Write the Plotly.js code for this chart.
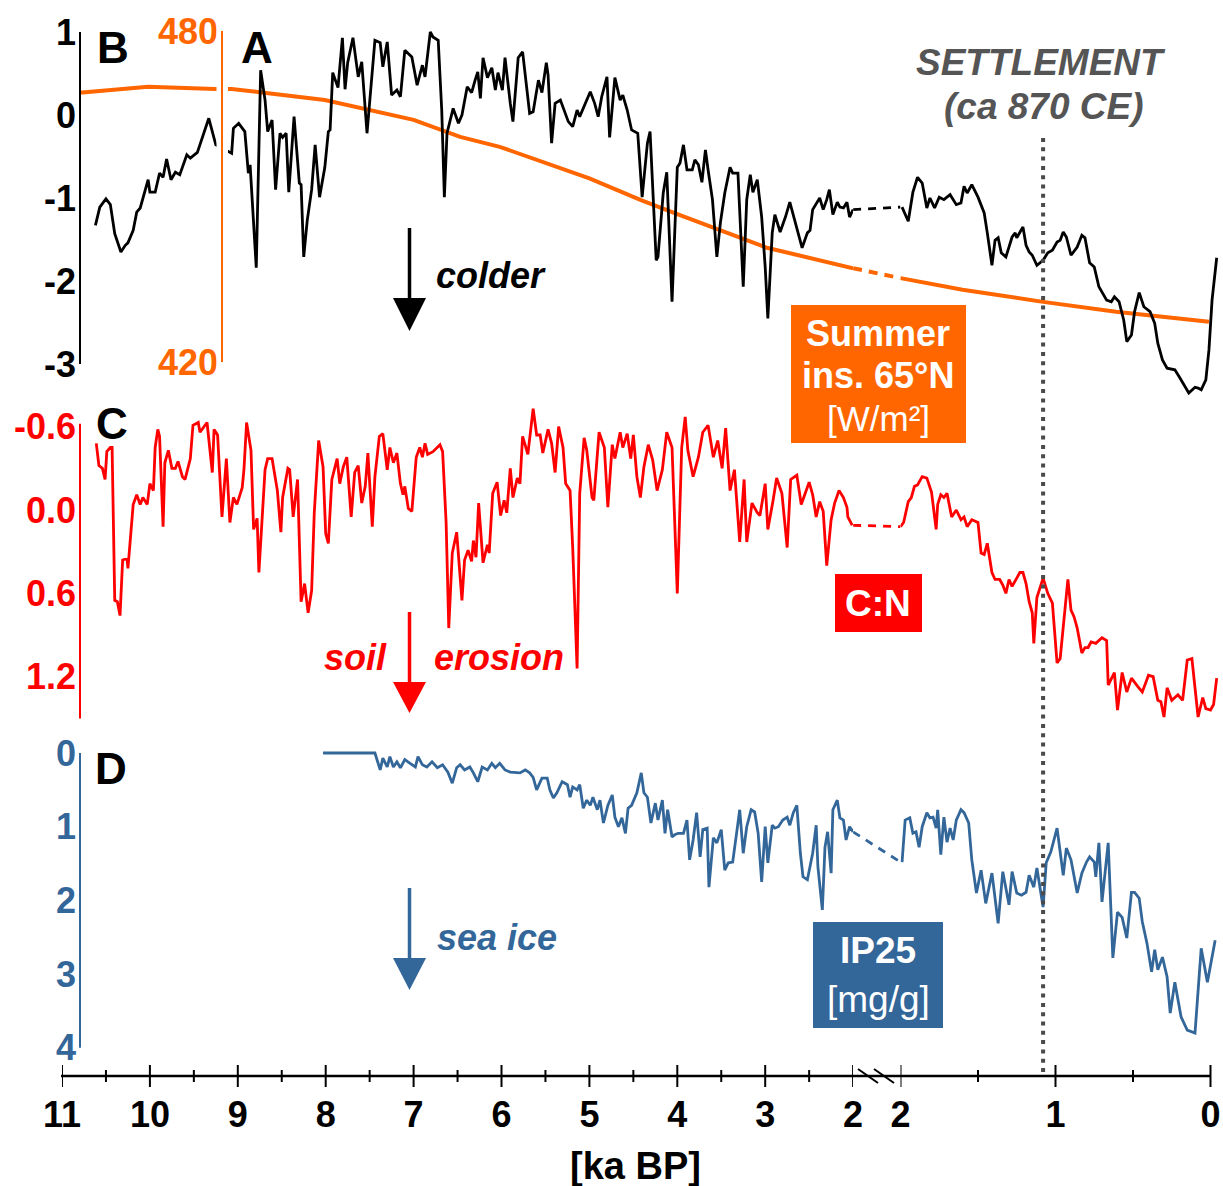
<!DOCTYPE html>
<html>
<head>
<meta charset="utf-8">
<script src="https://cdn.plot.ly/plotly-3.0.1.min.js"></script>
<style>html,body{margin:0;padding:0;background:#fff}#chart{width:1223px;height:1186px}</style>
</head>
<body>
<div id="chart"></div>
<script>
// ---------------- DATA ----------------
// x-axis ticks (ka BP)
const leftTickVals = [11,10,9,8,7,6,5,4,3,2];
const leftTickText = ['11','10','9','8','7','6','5','4','3','2'];
const leftMinorVals = [10.5,9.5,8.5,7.5,6.5,5.5,4.5,3.5,2.5];
const rightTickVals = [2,1,0];
const rightTickText = ['2','1','0'];
const rightMinorVals = [1.5,0.5];
const breakSpan = [0,1];
const settlementKa = 1.08;

// A: temperature anomaly (black)
const tempLeftKa = [10.62,10.57,10.50,10.45,10.40,10.33,10.28,10.25,10.19,10.15,10.11,10.02,10.00,9.94,9.89,9.85,9.81,9.76,9.71,9.66,9.58,9.54,9.46,9.41,9.33,9.25,9.07,9.05,8.99,8.92,8.88,8.86,8.79,8.74,8.69,8.66,8.61,8.57,8.52,8.49,8.45,8.42,8.36,8.30,8.28,8.25,8.21,8.16,8.12,8.07,8.01,7.97,7.95,7.92,7.86,7.81,7.78,7.75,7.69,7.63,7.59,7.53,7.47,7.44,7.38,7.35,7.30,7.25,7.19,7.15,7.10,7.02,6.96,6.90,6.87,6.81,6.78,6.72,6.68,6.65,6.62,6.55,6.49,6.45,6.39,6.34,6.30,6.27,6.24,6.21,6.16,6.11,6.07,6.04,5.99,5.96,5.90,5.87,5.81,5.76,5.68,5.64,5.58,5.54,5.49,5.47,5.43,5.39,5.33,5.24,5.19,5.14,5.11,5.05,4.99,4.94,4.90,4.86,4.80,4.77,4.71,4.65,4.62,4.57,4.52,4.45,4.40,4.34,4.31,4.24,4.22,4.16,4.12,4.06,4.00,3.97,3.93,3.89,3.83,3.80,3.76,3.72,3.68,3.65,3.60,3.55,3.51,3.46,3.40,3.37,3.31,3.25,3.21,3.17,3.14,3.09,3.04,3.00,2.97,2.92,2.89,2.83,2.77,2.72,2.66,2.58,2.52,2.49,2.46,2.41,2.38,2.34,2.30,2.27,2.23,2.18,2.15,2.11,2.07,2.04,2.00];
const tempLeft = [-1.33,-1.11,-1.01,-1.08,-1.43,-1.65,-1.57,-1.54,-1.39,-1.17,-1.12,-0.78,-0.93,-0.93,-0.70,-0.75,-0.53,-0.78,-0.69,-0.72,-0.48,-0.52,-0.45,-0.30,-0.04,-0.36,-0.46,-0.16,-0.10,-0.20,-0.70,-0.60,-1.84,0.54,0.18,-0.20,-0.06,-0.90,-0.22,-0.27,-0.22,-0.93,-0.02,-0.82,-0.84,-1.71,-1.27,-0.90,-0.36,-0.99,-0.63,-0.20,-0.18,0.51,0.33,0.93,0.31,0.63,0.93,0.46,0.64,-0.22,0.58,0.90,0.87,0.58,0.88,0.24,0.30,0.22,0.78,0.70,0.36,0.60,0.46,1.00,0.94,0.90,0.06,-0.99,-0.22,0.08,-0.10,0.00,0.34,0.27,0.42,0.52,0.20,0.69,0.45,0.57,0.30,0.51,0.30,0.69,0.14,-0.08,0.69,0.76,0.02,0.04,0.42,0.27,0.63,0.48,-0.34,0.14,0.18,-0.08,-0.14,0.06,-0.02,0.14,0.28,0.14,-0.02,0.22,0.46,-0.27,0.45,0.18,0.24,0.06,-0.18,-0.22,-0.99,-0.34,-0.20,-1.75,-1.71,-0.94,-0.69,-2.25,-0.63,-0.58,-0.36,-0.66,-0.66,-0.54,-0.60,-0.81,-0.42,-0.66,-1.02,-1.71,-1.30,-0.94,-0.63,-0.70,-0.70,-2.07,-1.02,-0.72,-0.93,-0.78,-1.23,-1.83,-2.45,-1.42,-1.20,-1.41,-1.23,-1.05,-1.29,-1.60,-1.42,-1.39,-1.14,-1.06,-1.00,-1.14,-1.02,-0.90,-1.20,-1.05,-1.11,-1.12,-1.05,-1.23,-1.14];
const tempRightKa = [1.99,1.95,1.92,1.89,1.86,1.83,1.81,1.78,1.75,1.72,1.68,1.64,1.61,1.59,1.57,1.54,1.50,1.46,1.44,1.41,1.39,1.37,1.35,1.32,1.28,1.26,1.25,1.21,1.19,1.17,1.15,1.12,1.08,1.05,1.02,0.99,0.97,0.95,0.93,0.90,0.86,0.83,0.81,0.78,0.75,0.72,0.67,0.64,0.62,0.59,0.56,0.54,0.51,0.49,0.46,0.43,0.39,0.36,0.34,0.31,0.28,0.23,0.20,0.17,0.14,0.10,0.08,0.06,0.03,0.01,-0.01,-0.04];
const tempRight = [-1.11,-1.28,-0.93,-0.75,-0.82,-1.12,-1.00,-1.12,-0.99,-1.02,-0.96,-1.08,-1.06,-0.86,-0.94,-0.84,-0.99,-1.18,-1.42,-1.81,-1.51,-1.48,-1.66,-1.71,-1.47,-1.42,-1.48,-1.35,-1.57,-1.65,-1.69,-1.81,-1.75,-1.66,-1.63,-1.53,-1.51,-1.41,-1.47,-1.69,-1.59,-1.45,-1.48,-1.78,-1.83,-2.07,-2.23,-2.25,-2.19,-2.25,-2.47,-2.73,-2.65,-2.37,-2.14,-2.31,-2.37,-2.51,-2.75,-2.95,-3.05,-3.07,-3.16,-3.25,-3.35,-3.28,-3.29,-3.31,-3.19,-2.83,-2.23,-1.72];

// B: summer insolation 65N (W/m2, orange)
const insolLeftKa = [10.80,10.02,9.26,9.07,8.75,8.01,7.00,6.70,6.47,6.02,5.00,4.42,4.00,2.98,2.00];
const insolLeft = [468.8,469.9,469.5,469.5,468.9,467.5,463.9,462.1,460.8,459.0,453.3,449.4,446.8,440.7,437.0];
const insolRightKa = [2.00,1.60,1.08,0.61,0.01];
const insolRight = [435.2,433.1,430.9,429.1,427.3];

// C: C:N (red, reversed axis)
const cnLeftKa = [10.61,10.58,10.54,10.51,10.49,10.45,10.43,10.40,10.37,10.34,10.31,10.26,10.25,10.19,10.15,10.11,10.08,10.03,10.00,9.96,9.94,9.91,9.89,9.85,9.83,9.79,9.75,9.71,9.68,9.63,9.60,9.54,9.51,9.45,9.43,9.38,9.35,9.29,9.27,9.23,9.18,9.13,9.09,9.05,9.01,8.95,8.93,8.90,8.85,8.82,8.78,8.76,8.69,8.66,8.61,8.55,8.51,8.49,8.43,8.41,8.37,8.32,8.28,8.24,8.20,8.16,8.13,8.08,8.03,8.00,7.97,7.93,7.87,7.84,7.80,7.76,7.71,7.67,7.63,7.59,7.55,7.52,7.47,7.44,7.39,7.35,7.30,7.27,7.23,7.19,7.15,7.12,7.10,7.06,7.02,6.97,6.93,6.90,6.87,6.84,6.78,6.70,6.67,6.63,6.60,6.56,6.51,6.45,6.42,6.38,6.34,6.32,6.29,6.26,6.21,6.16,6.14,6.10,6.05,6.01,5.97,5.94,5.90,5.87,5.82,5.79,5.76,5.70,5.64,5.60,5.56,5.53,5.47,5.43,5.39,5.35,5.30,5.27,5.22,5.19,5.14,5.11,5.06,5.03,4.97,4.95,4.89,4.83,4.79,4.74,4.71,4.65,4.62,4.57,4.53,4.50,4.46,4.42,4.38,4.33,4.28,4.23,4.17,4.12,4.06,4.00,3.95,3.91,3.88,3.82,3.76,3.71,3.65,3.59,3.54,3.49,3.45,3.40,3.35,3.29,3.24,3.21,3.15,3.09,3.06,3.00,2.97,2.91,2.87,2.81,2.75,2.71,2.64,2.59,2.55,2.50,2.46,2.42,2.38,2.34,2.30,2.25,2.21,2.16,2.11,2.07,2.06,2.01];
const cnLeft = [-0.48,-0.32,-0.30,-0.22,-0.42,-0.45,-0.45,0.65,0.66,0.76,0.36,0.35,0.42,-0.04,-0.11,-0.04,-0.09,-0.04,-0.19,-0.14,-0.45,-0.58,-0.53,0.12,-0.34,-0.43,-0.30,-0.30,-0.35,-0.24,-0.22,-0.37,-0.61,-0.63,-0.56,-0.61,-0.63,-0.27,-0.58,-0.54,0.05,-0.37,0.09,-0.09,-0.04,-0.16,-0.29,-0.63,-0.43,0.14,0.06,0.45,-0.29,-0.37,-0.37,-0.14,0.16,-0.09,-0.30,-0.29,0.05,-0.22,0.66,0.53,0.74,0.58,0.02,-0.50,-0.31,0.17,0.24,-0.22,-0.37,-0.19,-0.31,-0.38,0.05,-0.27,-0.32,-0.05,-0.17,-0.41,0.12,-0.24,-0.53,-0.55,-0.29,-0.45,-0.34,-0.41,-0.19,-0.11,-0.17,-0.01,0.01,-0.38,-0.45,-0.38,-0.48,-0.40,-0.42,-0.47,-0.42,0.09,0.85,0.31,0.16,0.65,0.36,0.29,0.37,0.22,0.34,-0.05,0.38,0.25,0.31,-0.12,-0.20,0.04,-0.07,0.02,-0.30,-0.09,-0.23,-0.19,-0.53,-0.40,-0.73,-0.54,-0.54,-0.41,-0.58,-0.48,-0.27,-0.60,-0.45,-0.19,-0.14,0.27,1.14,-0.12,-0.52,-0.43,-0.09,-0.07,-0.56,-0.45,-0.02,-0.47,-0.37,-0.56,-0.45,-0.55,-0.37,-0.54,-0.24,-0.09,-0.31,-0.47,-0.36,-0.14,-0.29,-0.56,-0.45,0.60,-0.45,-0.67,-0.43,-0.24,-0.38,-0.56,-0.61,-0.38,-0.50,-0.30,-0.59,-0.14,-0.29,0.23,-0.22,0.23,-0.05,0.02,0.04,-0.19,0.14,-0.07,-0.23,-0.12,0.27,-0.22,-0.25,-0.04,-0.11,-0.20,-0.11,0.05,-0.06,0.01,0.40,0.07,-0.05,-0.14,-0.09,-0.02,0.05,0.11];
const cnRightKa = [2.00,1.98,1.95,1.93,1.91,1.89,1.86,1.83,1.80,1.77,1.76,1.74,1.72,1.70,1.67,1.64,1.61,1.59,1.57,1.54,1.50,1.48,1.46,1.44,1.41,1.39,1.36,1.34,1.32,1.30,1.28,1.23,1.21,1.19,1.17,1.15,1.14,1.12,1.08,1.05,1.02,0.99,0.97,0.94,0.92,0.90,0.88,0.86,0.83,0.81,0.79,0.77,0.74,0.70,0.67,0.66,0.62,0.60,0.57,0.54,0.51,0.47,0.44,0.40,0.37,0.34,0.32,0.30,0.28,0.25,0.21,0.18,0.15,0.12,0.10,0.08,0.05,0.03,0.00,-0.02,-0.04];
const cnRight = [0.12,0.09,-0.06,-0.09,-0.17,-0.18,-0.24,-0.23,-0.13,0.14,-0.04,-0.11,-0.09,-0.12,0.05,0.00,0.07,0.05,0.12,0.07,0.09,0.31,0.32,0.24,0.45,0.50,0.50,0.54,0.60,0.50,0.55,0.45,0.45,0.53,0.66,0.74,0.96,0.63,0.49,0.60,0.67,1.10,1.07,0.74,0.50,0.72,0.77,0.85,1.03,0.99,0.99,0.95,0.96,0.92,0.94,1.26,1.17,1.44,1.17,1.31,1.21,1.27,1.31,1.19,1.20,1.37,1.38,1.49,1.28,1.37,1.33,1.37,1.08,1.07,1.27,1.49,1.35,1.43,1.44,1.40,1.21];

// D: IP25 (blue, reversed axis)
const ip25LeftKa = [8.03,7.44,7.38,7.35,7.30,7.27,7.23,7.19,7.15,7.10,7.04,6.98,6.95,6.90,6.85,6.79,6.73,6.67,6.61,6.56,6.51,6.47,6.42,6.36,6.32,6.27,6.22,6.16,6.11,6.07,6.02,5.96,5.90,5.79,5.73,5.68,5.64,5.60,5.54,5.48,5.45,5.41,5.37,5.31,5.25,5.22,5.19,5.14,5.11,5.07,5.03,4.99,4.96,4.91,4.88,4.84,4.79,4.74,4.71,4.67,4.63,4.59,4.56,4.52,4.46,4.41,4.38,4.34,4.30,4.25,4.22,4.17,4.14,4.11,4.06,4.03,3.99,3.93,3.89,3.86,3.82,3.78,3.74,3.71,3.66,3.64,3.59,3.55,3.50,3.46,3.42,3.37,3.32,3.29,3.25,3.21,3.16,3.12,3.08,3.04,3.00,2.97,2.92,2.89,2.85,2.80,2.75,2.72,2.68,2.64,2.60,2.57,2.52,2.49,2.46,2.42,2.40,2.35,2.32,2.29,2.25,2.23,2.18,2.15,2.11,2.08,2.04,2.00];
const ip25Left = [0,0,0.23,0.07,0.19,0.05,0.19,0.12,0.20,0.09,0.14,0.19,0.05,0.16,0.19,0.12,0.20,0.16,0.26,0.41,0.20,0.16,0.23,0.19,0.27,0.39,0.19,0.23,0.14,0.20,0.14,0.23,0.26,0.27,0.23,0.27,0.33,0.50,0.34,0.34,0.50,0.61,0.54,0.39,0.43,0.60,0.46,0.50,0.43,0.75,0.64,0.71,0.60,0.77,0.64,0.95,0.71,0.57,0.87,1.00,0.88,1.09,0.75,0.71,0.54,0.27,0.54,0.60,0.95,0.68,0.91,0.64,1.09,0.77,1.14,1.11,1.09,1.09,0.91,1.45,1.18,0.81,1.41,1.04,1.02,1.82,1.15,1.22,1.04,1.59,1.49,1.48,1.04,0.77,1.36,1.00,0.77,0.80,1.09,1.75,1.00,1.49,0.98,1.02,1.00,0.91,0.87,0.98,0.81,0.71,1.36,1.68,1.72,1.55,1.36,0.98,1.55,2.13,1.28,1.07,1.63,0.77,0.64,0.88,0.91,1.18,1.00,1.07];
const ip25RightKa = [1.99,1.97,1.94,1.92,1.90,1.88,1.86,1.83,1.81,1.79,1.77,1.76,1.74,1.72,1.70,1.68,1.66,1.64,1.61,1.59,1.56,1.54,1.51,1.48,1.45,1.41,1.37,1.34,1.30,1.28,1.25,1.22,1.19,1.17,1.14,1.12,1.08,1.06,1.03,0.99,0.97,0.95,0.93,0.90,0.86,0.83,0.80,0.78,0.75,0.74,0.72,0.70,0.66,0.63,0.60,0.57,0.54,0.51,0.49,0.46,0.44,0.41,0.38,0.36,0.34,0.31,0.28,0.26,0.23,0.19,0.15,0.10,0.06,0.02,-0.03];
const ip25Right = [1.48,0.91,0.88,1.09,1.07,1.28,1.00,0.81,0.88,0.87,1.02,0.77,1.38,0.87,1.21,1.02,1.18,0.91,0.77,0.81,0.95,1.45,1.90,1.59,2.04,1.63,2.31,1.61,2.06,1.61,1.90,1.93,1.89,1.66,1.82,1.56,2.09,1.49,1.34,1.02,1.34,1.66,1.29,1.45,1.90,1.63,1.48,1.41,1.48,1.68,1.22,2.02,1.22,2.78,2.16,2.23,2.51,1.89,1.89,1.97,2.29,2.58,2.97,2.67,2.94,2.77,3.04,3.53,3.11,3.58,3.76,3.80,2.65,3.11,2.54];

// y tick labels
const tempTicks = [1,0,-1,-2,-3];
const tempTickText = ['1','0','-1','-2','-3'];
const insolTicks = [480,420];
const cnTicks = [-0.6,0,0.6,1.2];
const cnTickText = ['-0.6','0.0','0.6','1.2'];
const ip25Ticks = [0,1,2,3,4];

// ---------------- STYLE / LAYOUT ----------------
const W = 1223, H = 1186;
const fx = p => p / W;
const fy = p => 1 - p / H;
const FONT = 'Liberation Sans, Arial, Helvetica, sans-serif';
const BLACK = '#000000', ORANGE = '#FF6600', RED = '#FF0000', BLUE = '#336699', GREY = '#555555';

// linear mapping helper: value v0 at pixel p0, v1 at p1 -> range over domain [pTop,pBot]
function rangeFor(pTop, pBot, v0, p0, v1, p1) {
  const f = p => v0 + (p - p0) * (v1 - v0) / (p1 - p0);
  return [f(pBot), f(pTop)];
}
const LX0 = 62, LX1 = 853.1, RX0 = 900.5, RX1 = 1222, R_PX_PER_KA = 155;
const AXIS_Y = 1076;

const domA = [20, 400], domC = [395, 725], domD = [735, 1062];
const rangeTemp = rangeFor(domA[0], domA[1], 1, 32, -3, 364);
const rangeInsol = rangeFor(domA[0], domA[1], 480, 31, 420, 362);
const rangeCN = rangeFor(domC[0], domC[1], 0, 510, 1.2, 676.7);
const rangeIP = rangeFor(domD[0], domD[1], 0, 753, 4, 1047.8);

function line(x, y, xa, ya, color, width, dash) {
  return {type:'scatter', mode:'lines', x:x, y:y, xaxis:xa, yaxis:ya,
          line:{color:color, width:width, dash:dash || 'solid'}, hoverinfo:'skip', showlegend:false};
}
const last = a => a[a.length - 1];

const traces = [
  // insolation (base y axis)
  line(insolLeftKa, insolLeft, 'x', 'y', ORANGE, 4),
  line(insolRightKa, insolRight, 'x2', 'y', ORANGE, 4),
  line(breakSpan, [last(insolLeft), insolRight[0]], 'x3', 'y', ORANGE, 4, '9px,7px'),
  // temperature (overlay y2)
  line(tempLeftKa, tempLeft, 'x', 'y2', BLACK, 2.8),
  line(tempRightKa, tempRight, 'x2', 'y2', BLACK, 2.8),
  line(breakSpan, [last(tempLeft), tempRight[0]], 'x3', 'y2', BLACK, 2.8, '8px,7px'),
  // C:N
  line(cnLeftKa, cnLeft, 'x', 'y3', RED, 2.8),
  line(cnRightKa, cnRight, 'x2', 'y3', RED, 2.8),
  line(breakSpan, [last(cnLeft), cnRight[0]], 'x3', 'y3', RED, 2.8, '8px,7px'),
  // IP25
  line(ip25LeftKa, ip25Left, 'x', 'y4', BLUE, 2.8),
  line(ip25RightKa, ip25Right, 'x2', 'y4', BLUE, 2.8),
  line(breakSpan, [last(ip25Left), ip25Right[0]], 'x3', 'y4', BLUE, 2.8, '8px,7px')
];

const xTickFont = {family:FONT, size:36, color:BLACK, weight:'bold'};
function xAxis(dom, rng, tv, tt) {
  return {domain:[fx(dom[0]), fx(dom[1])], range:rng, anchor:'free', position:fy(AXIS_Y),
          showline:false, showgrid:false, zeroline:false, ticks:'', tickmode:'array',
          tickvals:tv, ticktext:tt, tickfont:xTickFont, ticklabelstandoff:14, fixedrange:true};
}
function yAxis(dom, rng, px, tv, tt, color, extra) {
  return Object.assign({domain:[fy(dom[1]), fy(dom[0])], range:rng, anchor:'free', position:fx(px), side:'left',
          showline:false, showgrid:false, zeroline:false, ticks:'', tickmode:'array', tickvals:tv, ticktext:tt,
          tickfont:{family:FONT, size:36, color:color, weight:'bold'}, ticklabelstandoff:4, fixedrange:true}, extra || {});
}

const layout = {
  width:W, height:H, margin:{l:0, r:0, t:0, b:0},
  paper_bgcolor:'#ffffff', plot_bgcolor:'rgba(0,0,0,0)', showlegend:false,
  font:{family:FONT},
  xaxis: xAxis([LX0, LX1], [11, 2], leftTickVals, leftTickText),
  xaxis2: xAxis([RX0, RX1], [2, 2 - (RX1 - RX0) / R_PX_PER_KA], rightTickVals, rightTickText),
  xaxis3: {domain:[fx(LX1), fx(RX0)], range:[0,1], anchor:'free', position:fy(AXIS_Y), visible:false, fixedrange:true},
  yaxis: yAxis(domA, rangeInsol, 222, insolTicks, ['480','420'], ORANGE),
  yaxis2: yAxis(domA, rangeTemp, 80, tempTicks, tempTickText, BLACK, {overlaying:'y'}),
  yaxis3: yAxis(domC, rangeCN, 80, cnTicks, cnTickText, RED),
  yaxis4: yAxis(domD, rangeIP, 80, ip25Ticks, ip25Ticks.map(String), BLUE),
  shapes: [],
  annotations: []
};

const S = layout.shapes;
// white halo around the insolation axis
S.push({type:'rect', xref:'paper', yref:'paper', x0:fx(216.5), x1:fx(228), y0:fy(398), y1:fy(22), fillcolor:'#ffffff', line:{width:0}, layer:'above'});
// vertical axis lines (drawn in data units of each axis)
S.push({type:'line', xref:'paper', yref:'y', x0:fx(222), x1:fx(222), y0:420, y1:480, line:{color:ORANGE, width:2}});
S.push({type:'line', xref:'paper', yref:'y2', x0:fx(80), x1:fx(80), y0:-3, y1:1, line:{color:BLACK, width:2}});
S.push({type:'line', xref:'paper', yref:'y3', x0:fx(80), x1:fx(80), y0:-0.62, y1:1.5, line:{color:RED, width:2}});
S.push({type:'line', xref:'paper', yref:'y4', x0:fx(80), x1:fx(80), y0:0, y1:4, line:{color:BLUE, width:2}});
// x axis line
S.push({type:'line', xref:'paper', yref:'paper', x0:fx(61), x1:fx(1211), y0:fy(AXIS_Y), y1:fy(AXIS_Y), line:{color:BLACK, width:2.5}});
// tick marks through the axis line, placed by the axis scales
function ticks(vals, xref, half) {
  vals.forEach(v => S.push({type:'line', xref:xref, yref:'paper', x0:v, x1:v, y0:fy(AXIS_Y + half), y1:fy(AXIS_Y - half), line:{color:BLACK, width:2}}));
}
ticks(leftTickVals, 'x', 11); ticks(leftMinorVals, 'x', 6);
ticks(rightTickVals, 'x2', 11); ticks(rightMinorVals, 'x2', 6);
// axis break marks
S.push({type:'line', xref:'paper', yref:'paper', x0:fx(858), x1:fx(878), y0:fy(1069), y1:fy(1083), line:{color:BLACK, width:2}});
S.push({type:'line', xref:'paper', yref:'paper', x0:fx(874), x1:fx(894), y0:fy(1069), y1:fy(1083), line:{color:BLACK, width:2}});
// settlement dotted line
S.push({type:'line', xref:'x2', yref:'paper', x0:settlementKa, x1:settlementKa, y0:fy(1072), y1:fy(134), line:{color:'#4a4a4a', width:4, dash:'4px,5.3px'}});
// arrows
function arrow(color, yTop, yHeadTop, yTip) {
  S.push({type:'line', xref:'paper', yref:'paper', x0:fx(409.5), x1:fx(409.5), y0:fy(yTop), y1:fy(yHeadTop + 4), line:{color:color, width:3.5}});
  S.push({type:'path', xref:'paper', yref:'paper', fillcolor:color, line:{width:0},
          path:'M '+fx(393)+' '+fy(yHeadTop)+' L '+fx(426)+' '+fy(yHeadTop)+' L '+fx(409.5)+' '+fy(yTip)+' Z'});
}
arrow(BLACK, 228, 298, 331);
arrow(RED, 612, 682, 713);
arrow(BLUE, 888, 958, 990);
// label boxes
function box(color, x0, x1, y0, y1) {
  S.push({type:'rect', xref:'paper', yref:'paper', x0:fx(x0), x1:fx(x1), y0:fy(y1), y1:fy(y0), fillcolor:color, line:{width:0}});
}
box(ORANGE, 791, 966, 305, 443);
box(RED, 835, 922, 574, 632);
box(BLUE, 813, 943, 922, 1028);

const A = layout.annotations;
function txt(t, x, y, size, color, weight, style) {
  A.push({text:t, xref:'paper', yref:'paper', x:fx(x), y:fy(y), xanchor:'center', yanchor:'middle', showarrow:false,
          font:{family:FONT, size:size, color:color, weight:weight || 'normal', style:style || 'normal'}});
}
txt('B', 113, 48, 44, BLACK, 'bold');
txt('A', 257, 48, 44, BLACK, 'bold');
txt('C', 112, 424, 44, BLACK, 'bold');
txt('D', 111, 768, 44, BLACK, 'bold');
txt('colder', 491, 275, 36, BLACK, 'bold', 'italic');
txt('soil', 355, 657, 36, RED, 'bold', 'italic');
txt('erosion', 499, 657, 36, RED, 'bold', 'italic');
txt('sea ice', 497, 937, 36, BLUE, 'bold', 'italic');
txt('SETTLEMENT', 1041, 63, 37, GREY, 'bold', 'italic');
txt('(ca 870 CE)', 1044, 107, 37, GREY, 'bold', 'italic');
txt('Summer', 878, 333, 36, '#ffffff', 'bold');
txt('ins. 65°N', 878, 375, 36, '#ffffff', 'bold');
txt('[W/m²]', 878, 418, 35, '#ffffff', 'normal');
txt('C:N', 878, 603, 37, '#ffffff', 'bold');
txt('IP25', 878, 950, 37, '#ffffff', 'bold');
txt('[mg/g]', 878, 999, 37, '#ffffff', 'normal');
txt('[ka BP]', 636, 1166, 38, BLACK, 'bold');

Plotly.newPlot('chart', traces, layout, {staticPlot:true, displayModeBar:false, responsive:false});
</script>
</body>
</html>
